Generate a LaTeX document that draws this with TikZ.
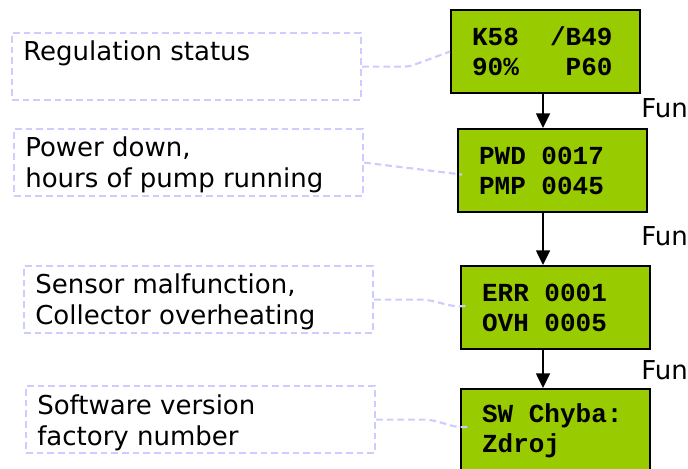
\documentclass[tikz,border=0pt]{standalone}
\usepackage{fontspec}
\setmainfont{DejaVu Sans}
\newfontfamily\lcdfont{Liberation Mono}
\usepackage{tikz}
\usetikzlibrary{arrows.meta}
\definecolor{lcdgreen}{RGB}{153,204,0}
\definecolor{notelilac}{RGB}{204,204,255}
\newcommand{\lcdgap}{\hphantom{0}}

\begin{document}
\begin{tikzpicture}[x=0.75pt,y=-0.75pt,
  lcd/.style={draw=black, line width=1.6pt, fill=lcdgreen, anchor=north west,
    minimum width=141.75pt, minimum height=62.25pt, inner xsep=15.75pt, inner ysep=2pt,
    text width=110.25pt, align=left, font=\lcdfont\bfseries\fontsize{19.5}{22.5}\selectfont},
  notebox/.style={draw=notelilac, line width=1.6pt, dash pattern=on 5pt off 3pt,
    anchor=north west, minimum width=261.75pt, minimum height=50.25pt, inner sep=0pt},
  notetext/.style={anchor=north west, inner sep=0pt, align=left,
    font=\fontsize{19.5}{23.25}\selectfont},
  link/.style={draw=notelilac, line width=1.6pt, dash pattern=on 5pt off 3pt},
  flow/.style={-{Triangle[width=10.5pt,length=11pt]}, line width=1.1pt},
  funlabel/.style={anchor=base west, inner sep=0pt, font=\fontsize{19.5}{23.25}\selectfont}]

\useasboundingbox (0,0) rectangle (688,468);

\node [lcd] (lcd1) at (450,9) {K58\lcdgap\lcdgap/B49\\90\%\lcdgap\lcdgap\lcdgap P60};
\node [lcd] (lcd2) at (457,128) {PWD\lcdgap0017\\PMP\lcdgap0045};
\node [lcd] (lcd3) at (460,265) {ERR\lcdgap0001\\OVH\lcdgap0005};
\node [lcd] (lcd4) at (460,388) {SW\lcdgap Chyba:\\Zdroj};

\node [notebox] (regulation) at (11,32) {};
\node [notebox] (powerdown) at (13,128) {};
\node [notebox] (malfunction) at (23,265) {};
\node [notebox] (software) at (25,385) {};

\node [notetext] (regulationtext) at ([shift={(12,7)}]regulation.north west) {\strut Regulation status};
\node [notetext] (powerdowntext) at ([shift={(12,7)}]powerdown.north west) {\strut Power down,\\hours of pump running};
\node [notetext] (malfunctiontext) at ([shift={(12,7)}]malfunction.north west) {\strut Sensor malfunction,\\Collector overheating};
\node [notetext] (softwaretext) at ([shift={(12,8)}]software.north west) {\strut Software version\\factory number};

% % % % % % % % % % % % % % % % % % % % % % % % % %

\draw [link, rounded corners=3pt] (regulation.east) -- ++(47,0) -- (lcd1.west);
\draw [link] (powerdown.east) -- ([shift={(5,4)}]lcd2.west);
\draw [link] (malfunction.east) -- ++(45,0) to [out=0,in=190] ([shift={(8,-2)}]lcd3.west);
\draw [link] (software.east) -- ++(47,0) to [out=0,in=190] ([shift={(10,-4)}]lcd4.west);

\coordinate (spine) at (543,0);
\draw [flow] (lcd1.south -| spine) -- (lcd2.north -| spine);
\draw [flow] (lcd2.south -| spine) -- (lcd3.north -| spine);
\draw [flow] (lcd3.south -| spine) -- (lcd4.north -| spine);

\node [funlabel] (fun1) at (641,117) {Fun};
\node [funlabel] (fun2) at (641,245) {Fun};
\node [funlabel] (fun3) at (641,379) {Fun};
\end{tikzpicture}
\end{document}
